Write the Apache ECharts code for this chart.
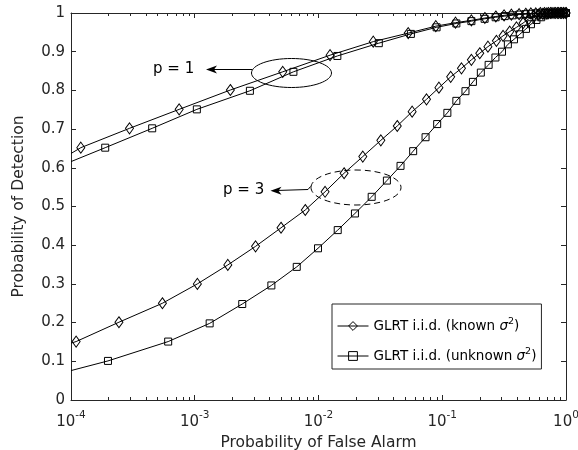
<!DOCTYPE html>
<html>
<head>
<meta charset="utf-8">
<script src="https://cdn.jsdelivr.net/npm/echarts@6/dist/echarts.min.js"></script>
<style>html,body{margin:0;padding:0;background:#fff}#c{width:578px;height:450px}</style>
</head>
<body>
<div id="c"></div>
<script>
// Probability of false alarm / detection pairs
const p1KnownPfa = [1e-4, 1.20e-4, 2.97e-4, 7.48e-4, 1.94e-3, 5.14e-3, 1.24e-2, 2.77e-2, 5.31e-2, 8.87e-2, 0.128, 0.172, 0.221, 0.271, 0.316, 0.362, 0.418, 0.473, 0.52, 0.57, 0.62, 0.67, 0.72, 0.77, 0.82, 0.87, 0.92, 0.96, 1.0];
const p1KnownPd  = [0.637, 0.652, 0.702, 0.751, 0.801, 0.848, 0.891, 0.926, 0.948, 0.966, 0.975, 0.981, 0.987, 0.991, 0.994, 0.996, 0.997, 0.998, 0.999, 0.999, 1.0, 1.0, 1.0, 1.0, 1.0, 1.0, 1.0, 1.0, 1.0];

const p1UnknownPfa = [1e-4, 1.89e-4, 4.53e-4, 1.04e-3, 2.79e-3, 6.27e-3, 1.42e-2, 3.07e-2, 5.58e-2, 9.00e-2, 0.130, 0.172, 0.22, 0.27, 0.32, 0.37, 0.42, 0.47, 0.52, 0.57, 0.62, 0.67, 0.72, 0.77, 0.82, 0.87, 0.92, 0.96, 1.0];
const p1UnknownPd  = [0.616, 0.652, 0.702, 0.751, 0.799, 0.848, 0.889, 0.922, 0.946, 0.963, 0.973, 0.979, 0.985, 0.989, 0.992, 0.994, 0.996, 0.997, 0.998, 0.999, 0.999, 1.0, 1.0, 1.0, 1.0, 1.0, 1.0, 1.0, 1.0];

const p3KnownPfa = [1e-4, 1.10e-4, 2.44e-4, 5.48e-4, 1.05e-3, 1.85e-3, 3.10e-3, 4.98e-3, 7.82e-3, 1.13e-2, 1.61e-2, 2.28e-2, 3.19e-2, 4.33e-2, 5.71e-2, 7.46e-2, 9.40e-2, 0.117, 0.143, 0.172, 0.201, 0.234, 0.274, 0.310, 0.351, 0.398, 0.450, 0.50, 0.55, 0.60, 0.65, 0.70, 0.75, 0.80, 0.85, 0.90, 0.95, 1.0];
const p3KnownPd  = [0.147, 0.151, 0.201, 0.250, 0.300, 0.349, 0.397, 0.445, 0.491, 0.538, 0.586, 0.629, 0.671, 0.708, 0.745, 0.777, 0.807, 0.835, 0.857, 0.879, 0.896, 0.913, 0.928, 0.941, 0.952, 0.963, 0.974, 0.985, 0.993, 0.996, 0.998, 0.999, 1.0, 1.0, 1.0, 1.0, 1.0, 1.0];

const p3UnknownPfa = [1e-4, 1.99e-4, 6.10e-4, 1.32e-3, 2.42e-3, 4.16e-3, 6.67e-3, 9.91e-3, 1.43e-2, 1.97e-2, 2.69e-2, 3.57e-2, 4.60e-2, 5.82e-2, 7.33e-2, 9.10e-2, 0.110, 0.130, 0.154, 0.177, 0.205, 0.237, 0.269, 0.304, 0.339, 0.380, 0.423, 0.475, 0.521, 0.577, 0.63, 0.68, 0.73, 0.78, 0.84, 0.90, 0.95, 1.0];
const p3UnknownPd  = [0.076, 0.101, 0.151, 0.198, 0.248, 0.296, 0.344, 0.392, 0.439, 0.482, 0.525, 0.567, 0.605, 0.643, 0.679, 0.713, 0.742, 0.773, 0.798, 0.822, 0.846, 0.866, 0.885, 0.900, 0.919, 0.932, 0.945, 0.959, 0.971, 0.982, 0.989, 0.994, 0.997, 0.999, 1.0, 1.0, 1.0, 1.0];

const yTicks = [0, 0.1, 0.2, 0.3, 0.4, 0.5, 0.6, 0.7, 0.8, 0.9, 1];
const xDecades = [1e-4, 1e-3, 1e-2, 1e-1, 1];
const legendLabels = ['GLRT i.i.d. (known {i|σ}{s|2})', 'GLRT i.i.d. (unknown {i|σ}{s|2})'];

const AX = '#262626';
const FONT = 'DejaVu Sans';

function makeData(xs, ys) {
  return xs.map((x, i) => {
    const d = { value: [x, ys[i]] };
    if (i === 0) d.symbol = 'none';
    return d;
  });
}

const chart = echarts.init(document.getElementById('c'), null, { renderer: 'canvas' });

const knownName = 'known';
const unknownName = 'unknown';

const lineBase = (name, xs, ys, symbol, size) => ({
  name,
  type: 'line',
  xAxisIndex: 0,
  yAxisIndex: 0,
  data: makeData(xs, ys),
  symbol,
  symbolSize: size,
  showAllSymbol: true,
  smooth: false,
  lineStyle: { color: '#000', width: 1 },
  itemStyle: { color: 'rgba(255,255,255,0)', borderColor: '#000', borderWidth: 1 },
  emphasis: { disabled: true },
  animation: false,
  z: 3
});

const axisCommon = {
  axisLine: { show: true, onZero: false, lineStyle: { color: AX, width: 1 } },
  axisTick: { show: true, inside: true, length: 5, lineStyle: { color: AX, width: 1 } },
  splitLine: { show: false }
};

const option = {
  backgroundColor: '#fff',
  animation: false,
  grid: { left: 71, right: 12, top: 13, bottom: 50, containLabel: false, outerBoundsMode: 'none' },
  xAxis: [
    Object.assign({
      type: 'log', logBase: 10, min: xDecades[0], max: xDecades[xDecades.length - 1], position: 'bottom',
      axisLabel: {
        margin: 10,
        formatter: v => '{b|10}{s|' + Math.round(Math.log10(v)) + '}',
        rich: {
          b: { fontFamily: FONT, fontSize: 15, color: AX, lineHeight: 20, verticalAlign: 'bottom' },
          s: { fontFamily: FONT, fontSize: 10.5, color: AX, lineHeight: 12, verticalAlign: 'top' }
        }
      },
      name: 'Probability of False Alarm',
      nameLocation: 'middle',
      nameGap: 28,
      nameTextStyle: { fontFamily: FONT, fontSize: 15.5, color: AX }
    }, axisCommon),
    Object.assign({
      type: 'log', logBase: 10, min: xDecades[0], max: xDecades[xDecades.length - 1], position: 'top',
      axisLabel: { show: false }
    }, axisCommon)
  ],
  yAxis: [
    Object.assign({
      type: 'value', min: yTicks[0], max: yTicks[yTicks.length - 1], interval: 0.1, position: 'left',
      axisLabel: {
        margin: 6, fontFamily: FONT, fontSize: 15, color: AX,
        formatter: v => String(Math.round(v * 10) / 10)
      },
      name: 'Probability of Detection',
      nameLocation: 'middle',
      nameGap: 44,
      nameRotate: 90,
      nameTextStyle: { fontFamily: FONT, fontSize: 15.5, color: AX }
    }, axisCommon),
    Object.assign({
      type: 'value', min: yTicks[0], max: yTicks[yTicks.length - 1], interval: 0.1, position: 'right',
      axisLabel: { show: false }
    }, axisCommon)
  ],
  legend: {
    left: 332, top: 304,
    orient: 'vertical',
    itemWidth: 31, itemHeight: 11,
    itemGap: 12,
    padding: [13, 5, 4, 5],
    backgroundColor: '#fff',
    borderColor: AX, borderWidth: 1, borderRadius: 0,
    selectedMode: false,
    itemStyle: { color: 'rgba(255,255,255,0)', borderColor: '#000', borderWidth: 1 },
    lineStyle: { color: '#000', width: 1 },
    data: [knownName, unknownName],
    formatter: n => n === knownName ? legendLabels[0] : legendLabels[1],
    textStyle: {
      fontFamily: FONT, fontSize: 13.5, color: '#000', lineHeight: 18,
      rich: {
        i: { fontFamily: FONT, fontSize: 13.5, fontStyle: 'italic', color: '#000' },
        s: { fontFamily: FONT, fontSize: 9.5, color: '#000', verticalAlign: 'top', lineHeight: 10 }
      }
    }
  },
  series: [
    lineBase(knownName, p1KnownPfa, p1KnownPd, 'diamond', [8, 11]),
    lineBase(unknownName, p1UnknownPfa, p1UnknownPd, 'rect', 7),
    lineBase(knownName, p3KnownPfa, p3KnownPd, 'diamond', [8, 11]),
    lineBase(unknownName, p3UnknownPfa, p3UnknownPd, 'rect', 7)
  ]
};

chart.setOption(option);

// minor ticks of the log axis (2..9 per decade), placed through the axis scale
const yBottom = chart.convertToPixel({ yAxisIndex: 0 }, yTicks[0]);
const yTop = chart.convertToPixel({ yAxisIndex: 0 }, yTicks[yTicks.length - 1]);
const graphics = [];
for (let d = 0; d < xDecades.length - 1; d++) {
  for (let k = 2; k <= 9; k++) {
    const px = Math.round(chart.convertToPixel({ xAxisIndex: 0 }, k * xDecades[d])) + 0.5;
    graphics.push({ type: 'line', silent: true, shape: { x1: px, y1: yBottom, x2: px, y2: yBottom - 3 }, style: { stroke: AX, lineWidth: 1 } });
    graphics.push({ type: 'line', silent: true, shape: { x1: px, y1: yTop, x2: px, y2: yTop + 3 }, style: { stroke: AX, lineWidth: 1 } });
  }
}

// annotations
graphics.push(
  { type: 'text', left: 153, top: 62, style: { text: 'p = 1', font: '15px "DejaVu Sans"', fill: '#000' } },
  { type: 'line', shape: { x1: 252, y1: 69.5, x2: 212, y2: 69.5 }, style: { stroke: '#000', lineWidth: 1 } },
  { type: 'polygon', shape: { points: [[206, 69.5], [217, 65.5], [214, 69.5], [217, 73.5]] }, style: { fill: '#000' } },
  { type: 'ellipse', shape: { cx: 291.5, cy: 73, rx: 40, ry: 14.5 }, style: { fill: 'none', stroke: '#000', lineWidth: 1 } },
  { type: 'text', left: 223, top: 183, style: { text: 'p = 3', font: '15px "DejaVu Sans"', fill: '#000' } },
  { type: 'polyline', shape: { points: [[310.5, 186.5], [308, 189.5], [276, 190.5]] }, style: { stroke: '#000', lineWidth: 1, fill: 'none' } },
  { type: 'polygon', shape: { points: [[270.5, 190.7], [281.5, 186.7], [278.5, 190.7], [281.5, 194.7]] }, style: { fill: '#000' } },
  { type: 'ellipse', shape: { cx: 356, cy: 187.5, rx: 45, ry: 17.5 }, style: { fill: 'none', stroke: '#000', lineWidth: 1, lineDash: [6, 4] } }
);

chart.setOption({ graphic: graphics });
</script>
</body>
</html>
